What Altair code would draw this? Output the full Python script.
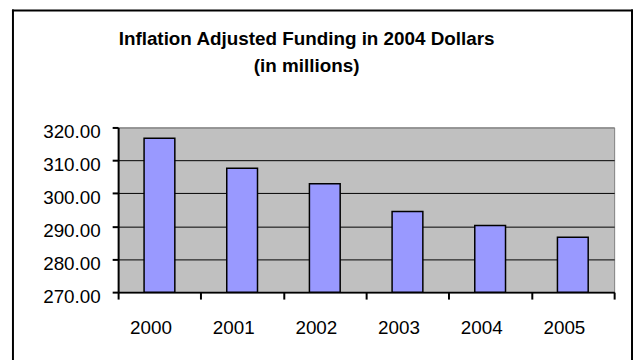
import altair as alt
import pandas as pd

years = ["2000", "2001", "2002", "2003", "2004", "2005"]
funding = [316.7, 307.6, 302.9, 294.5, 290.2, 286.7]
y_ticks = [270, 280, 290, 300, 310, 320]
title_lines = ["Inflation Adjusted Funding in 2004 Dollars", "(in millions)"]

df = pd.DataFrame({"year": years, "funding": funding})

FONT = "Liberation Sans"

bars = alt.Chart(df).mark_bar(
    size=31, color="#9999FF", stroke="black", strokeWidth=1.5
).encode(
    x=alt.X("year:N", sort=years,
            scale=alt.Scale(paddingInner=0, paddingOuter=0),
            axis=alt.Axis(title=None, labelAngle=0, tickBand="extent",
                          tickSize=7, tickWidth=2, tickColor="black",
                          domainColor="black", domainWidth=2,
                          labelFont=FONT, labelFontSize=19, labelColor="black",
                          labelPadding=20, labelOffset=-9, grid=False)),
    y=alt.Y("funding:Q",
            scale=alt.Scale(domain=[270, 320], zero=False, nice=False, clamp=True),
            axis=alt.Axis(title=None, values=y_ticks, format=".2f",
                          tickSize=6, tickWidth=2, tickColor="black",
                          domainColor="black", domainWidth=2,
                          labelFont=FONT, labelFontSize=19, labelColor="black",
                          labelPadding=12, labelOffset=4,
                          grid=True, gridWidth=1,
                          gridColor=alt.condition("datum.value === 320",
                                                  alt.value("#808080"),
                                                  alt.value("black")))),
)

one = alt.Data(values=[{"k": 1}])
edge = dict(color="black", strokeWidth=2)
left_edge = alt.Chart(one).mark_rule(**edge).encode(
    x=alt.value(-106), y=alt.value(-119), y2=alt.value(260))
right_edge = alt.Chart(one).mark_rule(**edge).encode(
    x=alt.value(518), y=alt.value(-119), y2=alt.value(260))
top_edge = alt.Chart(one).mark_rule(**edge).encode(
    x=alt.value(-107), x2=alt.value(519), y=alt.value(-118))

title = alt.Chart(alt.Data(values=[{"t": title_lines}])).mark_text(
    font=FONT, fontSize=19, fontWeight="bold", color="black",
    align="center", baseline="alphabetic", lineHeight=28
).encode(
    text="t:N",
    x=alt.value(190), y=alt.value(-83.5),
)

chart = alt.layer(left_edge, right_edge, top_edge, bars, title).properties(
    width=500, height=166,
    background="white",
    autosize=alt.AutoSizeParams(type="none"),
    padding={"left": 111, "top": 119, "right": 19, "bottom": 67},
).configure_view(
    fill="#C0C0C0", stroke="#808080", strokeWidth=1
)

chart.save("out.html", embed_options={"renderer": "svg", "actions": False})
